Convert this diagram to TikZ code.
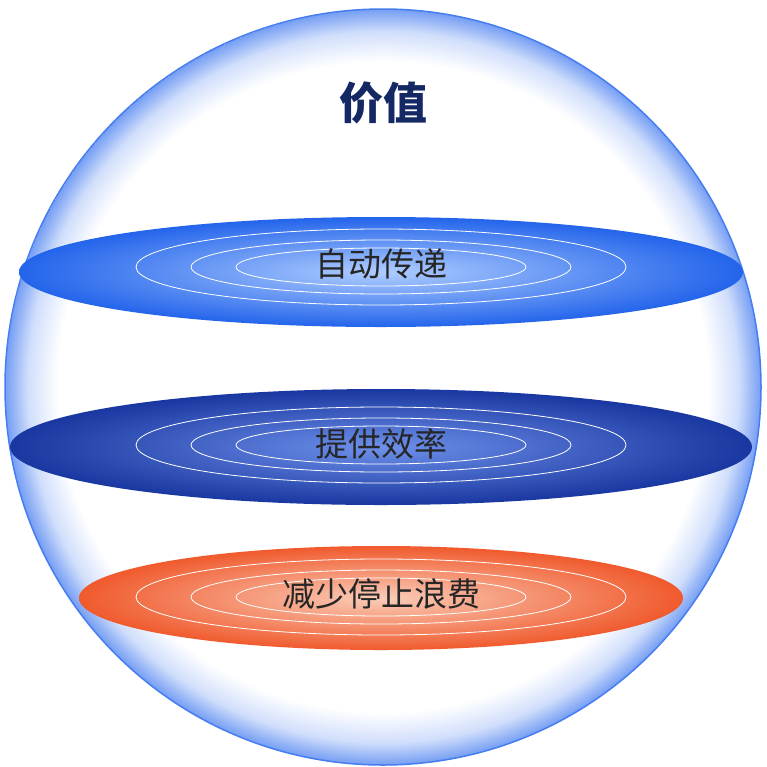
\documentclass[tikz,border=0pt]{standalone}
\usepackage{fontspec}
\newfontfamily\cjk{Noto Sans CJK SC}
\definecolor{rim}{RGB}{70,125,240}
\definecolor{b1in}{RGB}{175,205,255}
\definecolor{b1out}{RGB}{35,100,235}
\definecolor{b2in}{RGB}{110,145,235}
\definecolor{b2out}{RGB}{25,55,160}
\definecolor{o3in}{RGB}{250,205,185}
\definecolor{o3out}{RGB}{240,90,45}
\definecolor{navy}{RGB}{20,40,100}
\pgfdeclareradialshading{sphereglow}{\pgfpoint{0bp}{0bp}}{color(0bp)=(white); color(21.5bp)=(white); color(23.5bp)=(rim!25); color(25bp)=(rim!75)}
\tikzset{ring/.style={draw=white, line width=0.8pt},
 lab/.style={font=\cjk\fontsize{33}{38}\selectfont, text=black!85}}
\begin{document}
\begin{tikzpicture}[x=1pt,y=-1pt]
\useasboundingbox (0,0) rectangle (767,766);
\node[circle, minimum size=756pt, shading=sphereglow, draw=rim, line width=1.5pt] (sphere) at (383,387) {};
\node[font=\cjk\bfseries\fontsize{44}{50}\selectfont, text=navy] (title) at (383,103) {价值};
% disc 1
\shade[inner color=b1in, outer color=b1out] (381,272) ellipse [x radius=362, y radius=55];
\foreach \a/\b in {245/38,190/27,145/19} \draw[ring] (381,267) ellipse [x radius=\a, y radius=\b];
\node[lab] (d1) at (381,264) {自动传递};
% disc 2
\shade[inner color=b2in, outer color=b2out] (381,447) ellipse [x radius=371, y radius=58];
\foreach \a/\b in {245/38,190/27,145/19} \draw[ring] (381,445) ellipse [x radius=\a, y radius=\b];
\node[lab] (d2) at (381,444) {提供效率};
% disc 3
\shade[inner color=o3in, outer color=o3out] (381,598) ellipse [x radius=302, y radius=52];
\foreach \a/\b in {245/38,190/27,145/19} \draw[ring] (381,597) ellipse [x radius=\a, y radius=\b];
\node[lab] (d3) at (381,594) {减少停止浪费};
\end{tikzpicture}
\end{document}
